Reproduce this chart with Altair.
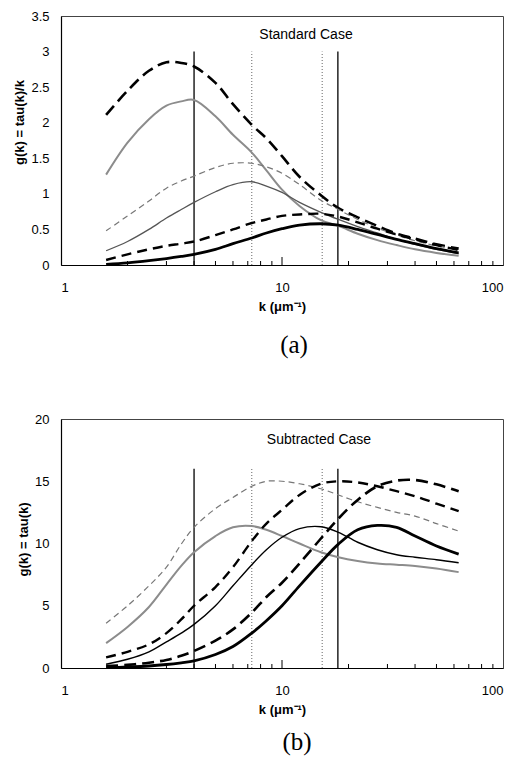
import altair as alt
import pandas as pd

# ---- data ----
K = [1.6, 2, 2.5, 3, 3.5, 4, 5, 6, 7.3, 8.5, 10, 12, 15, 18, 22, 27, 33, 40, 50, 63]

# (a) Standard case, g(k) = tau(k)/k
STD_1 = [2.11, 2.45, 2.73, 2.85, 2.84, 2.79, 2.56, 2.26, 1.97, 1.78, 1.53, 1.24, 0.98, 0.80, 0.67, 0.55, 0.44, 0.37, 0.29, 0.23]
STD_2 = [1.27, 1.72, 2.05, 2.24, 2.30, 2.32, 2.09, 1.83, 1.58, 1.33, 1.06, 0.83, 0.63, 0.55, 0.44, 0.35, 0.28, 0.22, 0.17, 0.13]
STD_3 = [0.48, 0.69, 0.90, 1.08, 1.18, 1.25, 1.37, 1.43, 1.43, 1.38, 1.29, 1.13, 0.91, 0.78, 0.64, 0.52, 0.42, 0.34, 0.27, 0.22]
STD_4 = [0.20, 0.33, 0.50, 0.66, 0.78, 0.88, 1.03, 1.13, 1.17, 1.11, 1.02, 0.88, 0.74, 0.64, 0.54, 0.45, 0.36, 0.29, 0.22, 0.16]
STD_5 = [0.07, 0.15, 0.22, 0.27, 0.30, 0.33, 0.42, 0.50, 0.59, 0.64, 0.69, 0.71, 0.72, 0.68, 0.60, 0.51, 0.43, 0.36, 0.28, 0.21]
STD_6 = [0.01, 0.03, 0.06, 0.09, 0.12, 0.15, 0.22, 0.30, 0.38, 0.45, 0.51, 0.56, 0.58, 0.56, 0.50, 0.43, 0.36, 0.30, 0.23, 0.17]

# (b) Subtracted case, g(k) = tau(k)
SUB_A = [3.6, 5.0, 6.6, 8.1, 9.95, 11.3, 12.8, 13.7, 14.6, 15.0, 15.0, 14.8, 14.4, 13.9, 13.35, 12.9, 12.5, 12.2, 11.6, 11.0]
SUB_B = [2.0, 3.3, 4.9, 6.7, 8.2, 9.3, 10.6, 11.3, 11.4, 11.1, 10.6, 10.0, 9.3, 8.9, 8.6, 8.4, 8.3, 8.2, 8.0, 7.7]
SUB_C = [0.85, 1.3, 1.9, 2.8, 3.9, 5.0, 6.5, 8.1, 10.2, 11.6, 12.7, 13.9, 14.8, 15.0, 14.9, 14.6, 14.2, 13.8, 13.2, 12.6]
SUB_D = [0.3, 0.7, 1.3, 2.1, 2.8, 3.5, 5.0, 6.6, 8.3, 9.5, 10.5, 11.2, 11.35, 10.9, 10.1, 9.5, 9.1, 8.9, 8.7, 8.45]
SUB_E = [0.15, 0.25, 0.42, 0.65, 0.98, 1.37, 2.2, 3.1, 4.45, 5.7, 6.85, 8.4, 10.4, 12.0, 13.5, 14.6, 15.05, 15.1, 14.75, 14.2]
SUB_F = [0.03, 0.08, 0.16, 0.28, 0.42, 0.57, 1.08, 1.72, 2.8, 3.8, 5.0, 6.6, 8.5, 9.95, 11.1, 11.45, 11.3, 10.6, 9.8, 9.15]

VLINE_K = [4.0, 7.3, 15.2, 17.9]
VLINE_KIND = ["solid", "dotted", "dotted", "solid"]
MINOR_K = [2, 3, 4, 5, 6, 7, 8, 9, 20, 30, 40, 50, 60, 70, 80, 90]
MAJOR_K = [10]

W, H = 442, 249
FONT = "Liberation Sans"

STYLE_THICK_DASH = dict(color="black", strokeWidth=2.6, strokeDash=[12, 6])
STYLE_GREY = dict(color="#8c8c8c", strokeWidth=2.0)
STYLE_THIN_DASH = dict(color="#777777", strokeWidth=1.2, strokeDash=[6, 4])
STYLE_THIN = dict(color="#555555", strokeWidth=1.3)
STYLE_MED_DASH = dict(color="black", strokeWidth=2.4, strokeDash=[10, 6])
STYLE_THICK = dict(color="black", strokeWidth=2.8)


def x_enc():
    return alt.X("k:Q",
                 scale=alt.Scale(type="log", domain=[1, 100]),
                 axis=alt.Axis(values=[1, 10, 100], format="d", title="k (μm⁻¹)",
                               labelPadding=16, titlePadding=6, tickSize=0))


def y_enc(field, ymax, step, title, title_y):
    vals = [round(i * step, 3) for i in range(int(round(ymax / step)) + 1)]
    return alt.Y(field + ":Q",
                 scale=alt.Scale(domain=[0, ymax], nice=False, zero=True),
                 axis=alt.Axis(values=vals, format="~g", title=title, labelPadding=12,
                               titlePadding=4, tickSize=0, titleY=title_y))


def panel(curves, styles, ymax, step, ytitle, title_y, vtop, case_title, case_xy, tag, tag_xy):
    layers = []
    # vertical reference lines
    vdf = pd.DataFrame({"k": VLINE_K, "kind": VLINE_KIND, "y0": 0, "y1": vtop})
    for kind, st in [("solid", dict(color="black", strokeWidth=1.3)),
                     ("dotted", dict(color="#666666", strokeWidth=1, strokeDash=[1, 2]))]:
        layers.append(
            alt.Chart(vdf[vdf.kind == kind]).mark_rule(**st).encode(
                x=x_enc(), y=y_enc("y0", ymax, step, ytitle, title_y), y2="y1:Q"))
    # curves
    for vals, st in zip(curves, styles):
        df = pd.DataFrame({"k": K, "g": vals})
        layers.append(
            alt.Chart(df).mark_line(interpolate="catmull-rom", **st).encode(
                x=x_enc(), y=y_enc("g", ymax, step, ytitle, title_y)))
    # inward minor ticks on the x axis
    layers.append(
        alt.Chart(pd.DataFrame({"k": MINOR_K})).mark_rule(color="black", strokeWidth=1).encode(
            x=x_enc(), y=alt.value(H), y2=alt.value(H - 4)))
    layers.append(
        alt.Chart(pd.DataFrame({"k": MAJOR_K})).mark_rule(color="black", strokeWidth=1).encode(
            x=x_enc(), y=alt.value(H), y2=alt.value(H - 8)))
    # case title
    layers.append(
        alt.Chart(pd.DataFrame({"t": [case_title]})).mark_text(
            font=FONT, fontSize=14, color="black", baseline="middle", align="center").encode(
            text="t:N", x=alt.value(case_xy[0]), y=alt.value(case_xy[1])))
    # panel tag
    layers.append(
        alt.Chart(pd.DataFrame({"t": [tag]})).mark_text(
            font="Liberation Serif", fontSize=25, color="black", baseline="middle", align="center").encode(
            text="t:N", x=alt.value(tag_xy[0]), y=alt.value(tag_xy[1])))
    return alt.layer(*layers).properties(width=W, height=H)


top = panel([STD_1, STD_2, STD_3, STD_4, STD_5, STD_6],
            [STYLE_THICK_DASH, STYLE_GREY, STYLE_THIN_DASH, STYLE_THIN, STYLE_MED_DASH, STYLE_THICK],
            3.5, 0.5, "g(k) = tau(k)/k", 106, 3.0,
            "Standard Case", (245, 19), "(a)", (233, 329))

bottom = panel([SUB_A, SUB_B, SUB_C, SUB_D, SUB_E, SUB_F],
               [STYLE_THIN_DASH, STYLE_GREY, STYLE_MED_DASH, dict(color="black", strokeWidth=1.4),
                STYLE_THICK_DASH, STYLE_THICK],
               20, 5, "g(k) = tau(k)", 120, 16,
               "Subtracted Case", (258, 21), "(b)", (236, 323))

chart = alt.vconcat(top, bottom, spacing=53).properties(
    padding={"left": 5, "top": 1, "right": 2, "bottom": 0}
).configure_view(
    stroke="#444444", strokeWidth=1
).configure_axis(
    labelFont=FONT, labelFontSize=13, labelColor="black",
    titleFont=FONT, titleFontSize=13, titleFontWeight="bold", titleColor="black",
    grid=False, ticks=False, domainColor="black", domainWidth=1.2
)

chart.save("out.html", embed_options={"renderer": "svg", "actions": False})
